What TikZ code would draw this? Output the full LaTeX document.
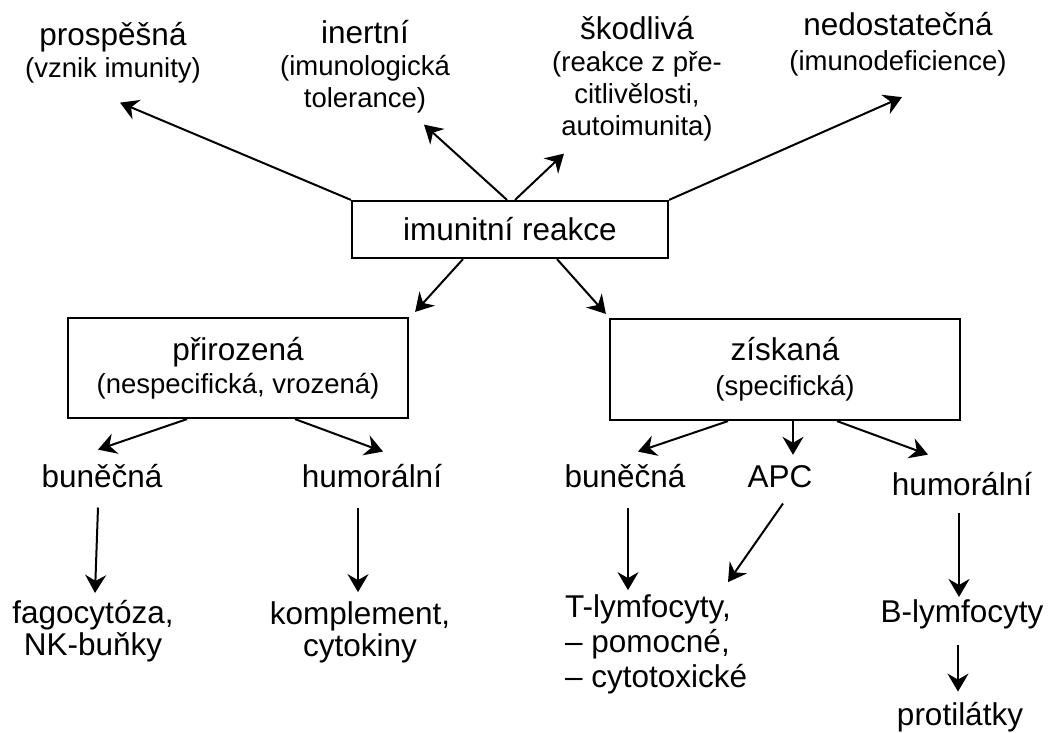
\documentclass[tikz,border=0pt]{standalone}
\usepackage{fontspec}
\setmainfont{Liberation Sans}
\usetikzlibrary{arrows.meta,positioning}
\newcommand{\lblfont}{\fontsize{31.5}{32}\selectfont}
\newcommand{\parfont}{\fontsize{27.5}{30}\selectfont}
\tikzset{rbox/.style={draw,line width=2.2pt,align=center,font=\lblfont,inner sep=0pt},
  lbl/.style={align=center,font=\lblfont,inner sep=2pt},
  arrow it/.style={-{Stealth[length=18pt,width=21pt,inset=6pt]},line width=2pt}}

\begin{document}
\begin{tikzpicture}[x=1pt,y=-1pt]
  \useasboundingbox (0,0) rectangle (1052,733);
  \node[rbox,minimum width=316pt,minimum height=57pt] (ir) at (510,229.5) {imunitní reakce};
  \node[lbl] (prosp) at (113,53) {prospěšná\\{\parfont(vznik imunity)}};
  \node[lbl] (inert) at (365,67) {inertní\\{\parfont(imunologická}\\{\parfont tolerance)}};
  \node[lbl] (skod) at (637,79) {škodlivá\\{\parfont(reakce z pře-}\\{\parfont citlivělosti,}\\{\parfont autoimunita)}};
  \node[lbl] (nedo) at (898,44) {nedostatečná\\[3pt]{\parfont(imunodeficience)}};
  \node[rbox,minimum width=340pt,minimum height=100pt] (prir) at (238,368) {přirozená\\[1pt]{\parfont(nespecifická, vrozená)}};
  \node[rbox,minimum width=350pt,minimum height=101pt] (zisk) at (785,369.5) {získaná\\[3pt]{\parfont(specifická)}};
  \node[lbl,anchor=base] (bunL) at (102,487) {buněčná};
  \node[lbl,anchor=base] (humL) at (372,487) {humorální};
  \node[lbl,anchor=base] (bunR) at (625,487) {buněčná};
  \node[lbl,anchor=base] (apc) at (780,487) {APC};
  \node[lbl,anchor=base] (humR) at (962,495) {humorální};
  \node[lbl] (fag) at (93,631) {fagocytóza,\\NK-buňky};
  \node[lbl] (komp) at (360,632) {komplement,\\cytokiny};
  \node[lbl,align=left,anchor=west] (tly) at (563,644) {T-lymfocyty,\\[3pt]– pomocné,\\[3pt]– cytotoxické};
  \node[lbl,anchor=base] (blym) at (962,622) {B-lymfocyty};
  \node[lbl,anchor=base] (prot) at (960,725) {protilátky};
  \draw[arrow it] (ir.north west) -- ([xshift=7pt,yshift=-17pt]prosp.south);
  \draw[arrow it] ([xshift=-3pt]ir.north) -- ([xshift=-28pt,yshift=-9pt]inert.south east);
  \draw[arrow it] ([xshift=5pt]ir.north) -- ([xshift=14pt,yshift=-10pt]skod.south west);
  \draw[arrow it] (ir.north east) -- ([xshift=4pt,yshift=-19pt]nedo.south);
  \draw[arrow it] ([xshift=-47pt]ir.south) -- ([xshift=6pt,yshift=5pt]prir.north east);
  \draw[arrow it] ([xshift=47pt]ir.south) -- ([xshift=-3pt,yshift=4pt]zisk.north west);
  \draw[arrow it] ([xshift=-51pt]prir.south) -- ([xshift=-4pt,yshift=12pt]bunL.north);
  \draw[arrow it] ([xshift=57pt]prir.south) -- ([xshift=11pt,yshift=10pt]humL.north);
  \draw[arrow it] ([xshift=-57pt]zisk.south) -- ([xshift=13pt,yshift=10pt]bunR.north);
  \draw[arrow it] ([xshift=8pt]zisk.south) -- ([xshift=13pt,yshift=8pt]apc.north);
  \draw[arrow it] ([xshift=52pt]zisk.south) -- ([xshift=-34pt,yshift=15pt]humR.north);
  \draw[arrow it] ([xshift=-4pt,yshift=-18pt]bunL.south) -- ([xshift=2pt,yshift=5pt]fag.north);
  \draw[arrow it] ([xshift=-14pt,yshift=-18pt]humL.south) -- ([xshift=-2pt,yshift=7pt]komp.north);
  \draw[arrow it] ([xshift=3pt,yshift=-18pt]bunR.south) -- ([xshift=65pt,yshift=2pt]tly.north west);
  \draw[arrow it] ([xshift=3pt,yshift=-14pt]apc.south) -- ([xshift=165pt,yshift=10pt]tly.north west);
  \draw[arrow it] ([xshift=-3pt,yshift=-15pt]humR.south) -- ([xshift=-3pt]blym.north);
  \draw[arrow it] ([xshift=-4pt,yshift=-14pt]blym.south) -- ([xshift=-2pt,yshift=8pt]prot.north);
\end{tikzpicture}
\end{document}
